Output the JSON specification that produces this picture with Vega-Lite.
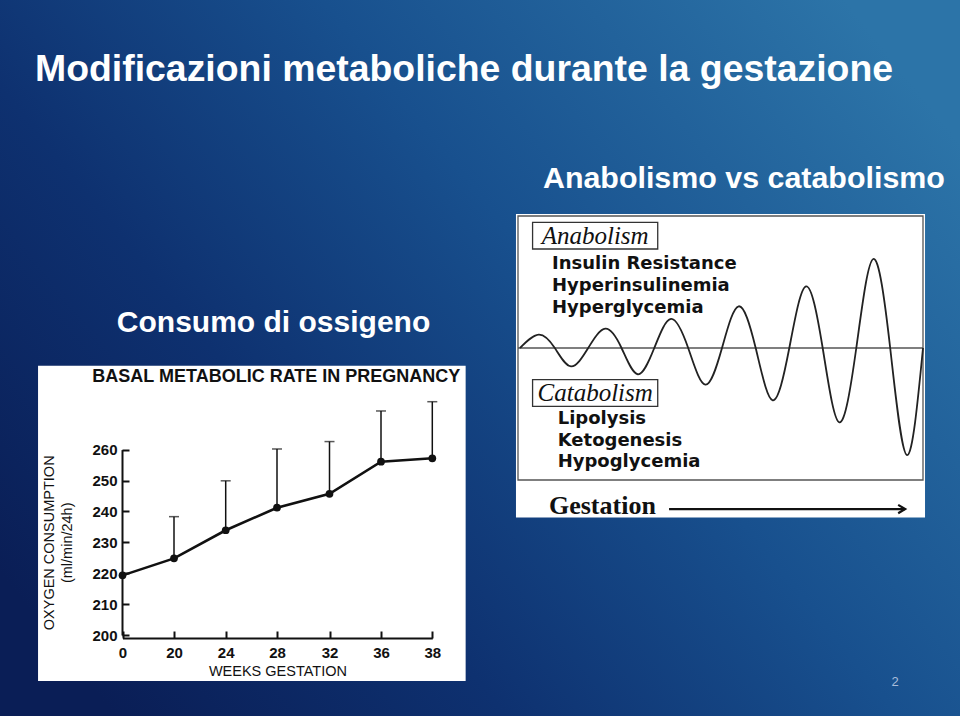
{
  "$schema": "https://vega.github.io/schema/vega-lite/v6.json",
  "width": 960,
  "height": 716,
  "autosize": {"type": "none"},
  "padding": 0,
  "background": "#0c2a66",
  "title": {
    "text": "Modificazioni metaboliche durante la gestazione",
    "anchor": "start",
    "frame": "group",
    "offset": -88,
    "dx": 35,
    "font": "Liberation Sans",
    "fontSize": 37.4,
    "fontWeight": "bold",
    "color": "#ffffff"
  },
  "datasets": {
    "bmr": [
      {"week": 0, "o2": 219.3},
      {"week": 20, "o2": 224.8, "upper": 238.3},
      {"week": 24, "o2": 233.9, "upper": 249.9},
      {"week": 28, "o2": 241.2, "upper": 260.2},
      {"week": 32, "o2": 245.7, "upper": 262.6},
      {"week": 36, "o2": 256.1, "upper": 272.5},
      {"week": 38, "o2": 257.2, "upper": 275.5}
    ],
    "bmrPanel": [{"x1": -32.8, "x2": 39.3, "y1": 185.1, "y2": 287.1}],
    "bmrTitle": [{"label": "BASAL METABOLIC RATE IN PREGNANCY", "week": 27.95, "o2": 283.4}],
    "bmrHeading": [{"label": "Consumo di ossigeno", "week": 27.73, "o2": 298.1}],
    "wavePanel": [{"x1": -0.5, "x2": 100.5, "y1": 1.015, "y2": -1.284}],
    "waveFrame": [{"x1": 0, "x2": 100, "y1": 1, "y2": -1}],
    "baseline": [{"t": 0, "v": 0}, {"t": 100, "v": 0}],
    "wave": [
      {"t": 0.5, "v": 0}, {"t": 5.11, "v": 0.101}, {"t": 9.09, "v": 0},
      {"t": 13.09, "v": -0.139}, {"t": 17.33, "v": 0}, {"t": 21.56, "v": 0.146},
      {"t": 25.56, "v": 0}, {"t": 29.56, "v": -0.199}, {"t": 33.65, "v": 0},
      {"t": 37.78, "v": 0.22}, {"t": 42.02, "v": 0}, {"t": 46.25, "v": -0.278},
      {"t": 50.37, "v": 0}, {"t": 54.49, "v": 0.316}, {"t": 58.69, "v": 0},
      {"t": 62.89, "v": -0.396}, {"t": 66.99, "v": 0}, {"t": 71.11, "v": 0.467},
      {"t": 75.23, "v": 0}, {"t": 79.33, "v": -0.563}, {"t": 83.53, "v": 0},
      {"t": 87.73, "v": 0.674}, {"t": 91.9, "v": 0}, {"t": 96.05, "v": -0.811},
      {"t": 100, "v": 0}
    ],
    "phaseBoxes": [
      {"phase": "Anabolism", "x1": 3.6, "x2": 34.5, "y1": 0.952, "y2": 0.75, "t": 19.05, "v": 0.851},
      {"phase": "Catabolism", "x1": 3.6, "x2": 34.5, "y1": -0.24, "y2": -0.442, "t": 19.05, "v": -0.341}
    ],
    "effects": [
      {"label": "Insulin Resistance", "t": 8.4, "v": 0.639},
      {"label": "Hyperinsulinemia", "t": 8.4, "v": 0.472},
      {"label": "Hyperglycemia", "t": 8.4, "v": 0.303},
      {"label": "Lipolysis", "t": 9.8, "v": -0.538},
      {"label": "Ketogenesis", "t": 9.8, "v": -0.702},
      {"label": "Hypoglycemia", "t": 9.8, "v": -0.866}
    ],
    "gestationLabel": [{"label": "Gestation", "t": 7.65, "v": -1.2}],
    "arrow": [{"t": 37.3, "v": -1.22}, {"t": 95.6, "v": -1.22}],
    "arrowHead": [{"t": 95.6, "v": -1.22}],
    "waveHeading": [{"label": "Anabolismo vs catabolismo", "t": 105.4, "v": 1.212}],
    "pageNumber": [{"label": "2", "t": 93.1, "v": -2.53}]
  },
  "layer": [
    {
      "layer": [
        {
          "data": {"name": "bmrPanel"},
          "mark": {"type": "rect", "fill": "#ffffff", "stroke": null},
          "encoding": {
            "x": {"field": "x1", "type": "quantitative", "scale": {"type": "linear", "domain": [0, 20, 24, 28, 32, 36, 38], "range": [122.5, 174, 225.7, 277, 329.5, 381, 432.3], "nice": false, "zero": false}, "axis": null},
            "x2": {"field": "x2"},
            "y": {"field": "y1", "type": "quantitative", "scale": {"type": "linear", "domain": [200, 260], "range": [635, 449.6], "nice": false, "zero": false}, "axis": null},
            "y2": {"field": "y2"}
          }
        },
        {
          "data": {"name": "bmr"},
          "transform": [{"filter": "isValid(datum.upper)"}],
          "mark": {"type": "rule", "color": "#111111", "strokeWidth": 1.5},
          "encoding": {
            "x": {"field": "week", "type": "quantitative", "axis": null},
            "y": {"field": "o2", "type": "quantitative", "axis": null},
            "y2": {"field": "upper"}
          }
        },
        {
          "data": {"name": "bmr"},
          "transform": [{"filter": "isValid(datum.upper)"}],
          "mark": {"type": "tick", "orient": "horizontal", "color": "#111111", "size": 10, "thickness": 1.5},
          "encoding": {
            "x": {"field": "week", "type": "quantitative", "axis": null},
            "y": {"field": "upper", "type": "quantitative", "axis": null}
          }
        },
        {
          "data": {"name": "bmr"},
          "mark": {"type": "line", "color": "#111111", "strokeWidth": 2.6},
          "encoding": {
            "x": {
              "field": "week", "type": "quantitative",
              "axis": {
                "values": [0, 20, 24, 28, 32, 36, 38], "format": "d",
                "title": "WEEKS GESTATION", "offset": -78,
                "tickSize": -7, "tickWidth": 2, "tickColor": "#111111",
                "domainColor": "#111111", "domainWidth": 2,
                "labelPadding": 14, "labelFont": "Liberation Sans", "labelFontSize": 15, "labelFontWeight": "bold", "labelColor": "#111111",
                "labelFlush": false, "labelOverlap": false,
                "titleFont": "Liberation Sans", "titleFontSize": 14.5, "titleFontWeight": "normal", "titleColor": "#111111", "titlePadding": 4,
                "grid": false, "zindex": 1
              }
            },
            "y": {
              "field": "o2", "type": "quantitative",
              "axis": {
                "values": [200, 210, 220, 230, 240, 250, 260],
                "title": ["OXYGEN CONSUMPTION", "(ml/min/24h)"], "offset": -122,
                "tickSize": -7, "tickWidth": 2, "tickColor": "#111111",
                "domainColor": "#111111", "domainWidth": 2,
                "labelPadding": 12, "labelFont": "Liberation Sans", "labelFontSize": 15, "labelFontWeight": "bold", "labelColor": "#111111",
                "labelFlush": false, "labelOverlap": false,
                "titleFont": "Liberation Sans", "titleFontSize": 14.5, "titleFontWeight": "normal", "titleColor": "#111111", "titlePadding": 17, "titleLineHeight": 18,
                "grid": false, "zindex": 1
              }
            }
          }
        },
        {
          "data": {"name": "bmr"},
          "mark": {"type": "point", "filled": true, "color": "#111111", "size": 60, "opacity": 1},
          "encoding": {
            "x": {"field": "week", "type": "quantitative", "axis": null},
            "y": {"field": "o2", "type": "quantitative", "axis": null}
          }
        },
        {
          "data": {"name": "bmrTitle"},
          "mark": {"type": "text", "font": "Liberation Sans", "fontSize": 18, "fontWeight": "bold", "color": "#111111", "align": "center", "baseline": "middle"},
          "encoding": {
            "x": {"field": "week", "type": "quantitative", "axis": null},
            "y": {"field": "o2", "type": "quantitative", "axis": null},
            "text": {"field": "label"}
          }
        },
        {
          "data": {"name": "bmrHeading"},
          "mark": {"type": "text", "font": "Liberation Sans", "fontSize": 30, "fontWeight": "bold", "color": "#ffffff", "align": "center", "baseline": "alphabetic"},
          "encoding": {
            "x": {"field": "week", "type": "quantitative", "axis": null},
            "y": {"field": "o2", "type": "quantitative", "axis": null},
            "text": {"field": "label"}
          }
        }
      ],
      "resolve": {"axis": {"x": "independent", "y": "independent"}}
    },
    {
      "layer": [
        {
          "data": {"name": "wavePanel"},
          "mark": {"type": "rect", "fill": "#ffffff", "stroke": null},
          "encoding": {
            "x": {"field": "x1", "type": "quantitative", "scale": {"domain": [0, 100], "range": [518, 923], "nice": false, "zero": false}, "axis": null},
            "x2": {"field": "x2"},
            "y": {"field": "y1", "type": "quantitative", "scale": {"domain": [-1, 1], "range": [480, 216], "nice": false, "zero": false}, "axis": null},
            "y2": {"field": "y2"}
          }
        },
        {
          "data": {"name": "waveFrame"},
          "mark": {"type": "rect", "fill": null, "fillOpacity": 0, "stroke": "#555555", "strokeWidth": 1.3},
          "encoding": {
            "x": {"field": "x1", "type": "quantitative", "axis": null},
            "x2": {"field": "x2"},
            "y": {"field": "y1", "type": "quantitative", "axis": null},
            "y2": {"field": "y2"}
          }
        },
        {
          "data": {"name": "baseline"},
          "mark": {"type": "line", "color": "#555555", "strokeWidth": 1.6},
          "encoding": {
            "x": {"field": "t", "type": "quantitative", "axis": null},
            "y": {"field": "v", "type": "quantitative", "axis": null}
          }
        },
        {
          "data": {"name": "wave"},
          "mark": {"type": "line", "color": "#222222", "strokeWidth": 1.8, "interpolate": "natural"},
          "encoding": {
            "x": {"field": "t", "type": "quantitative", "axis": null},
            "y": {"field": "v", "type": "quantitative", "axis": null}
          }
        },
        {
          "data": {"name": "phaseBoxes"},
          "mark": {"type": "rect", "fill": "#ffffff", "stroke": "#333333", "strokeWidth": 1.3},
          "encoding": {
            "x": {"field": "x1", "type": "quantitative", "axis": null},
            "x2": {"field": "x2"},
            "y": {"field": "y1", "type": "quantitative", "axis": null},
            "y2": {"field": "y2"}
          }
        },
        {
          "data": {"name": "phaseBoxes"},
          "mark": {"type": "text", "font": "Liberation Serif", "fontSize": 25, "fontStyle": "italic", "color": "#111111", "align": "center", "baseline": "middle"},
          "encoding": {
            "x": {"field": "t", "type": "quantitative", "axis": null},
            "y": {"field": "v", "type": "quantitative", "axis": null},
            "text": {"field": "phase"}
          }
        },
        {
          "data": {"name": "effects"},
          "mark": {"type": "text", "font": "DejaVu Sans", "fontSize": 18, "fontWeight": "bold", "color": "#111111", "align": "left", "baseline": "middle"},
          "encoding": {
            "x": {"field": "t", "type": "quantitative", "axis": null},
            "y": {"field": "v", "type": "quantitative", "axis": null},
            "text": {"field": "label"}
          }
        },
        {
          "data": {"name": "gestationLabel"},
          "mark": {"type": "text", "font": "Liberation Serif", "fontSize": 26, "fontWeight": "bold", "color": "#111111", "align": "left", "baseline": "middle"},
          "encoding": {
            "x": {"field": "t", "type": "quantitative", "axis": null},
            "y": {"field": "v", "type": "quantitative", "axis": null},
            "text": {"field": "label"}
          }
        },
        {
          "data": {"name": "arrow"},
          "mark": {"type": "line", "color": "#111111", "strokeWidth": 2.2},
          "encoding": {
            "x": {"field": "t", "type": "quantitative", "axis": null},
            "y": {"field": "v", "type": "quantitative", "axis": null}
          }
        },
        {
          "data": {"name": "arrowHead"},
          "mark": {"type": "point", "shape": "M-1,-0.6L0,0L-1,0.6", "filled": false, "color": "#111111", "strokeWidth": 2.2, "size": 196, "opacity": 1},
          "encoding": {
            "x": {"field": "t", "type": "quantitative", "axis": null},
            "y": {"field": "v", "type": "quantitative", "axis": null}
          }
        },
        {
          "data": {"name": "waveHeading"},
          "mark": {"type": "text", "font": "Liberation Sans", "fontSize": 30.4, "fontWeight": "bold", "color": "#ffffff", "align": "right", "baseline": "alphabetic"},
          "encoding": {
            "x": {"field": "t", "type": "quantitative", "axis": null},
            "y": {"field": "v", "type": "quantitative", "axis": null},
            "text": {"field": "label"}
          }
        },
        {
          "data": {"name": "pageNumber"},
          "mark": {"type": "text", "font": "Liberation Sans", "fontSize": 13, "color": "#a9bddb", "align": "center", "baseline": "middle"},
          "encoding": {
            "x": {"field": "t", "type": "quantitative", "axis": null},
            "y": {"field": "v", "type": "quantitative", "axis": null},
            "text": {"field": "label"}
          }
        }
      ]
    }
  ],
  "resolve": {"scale": {"x": "independent", "y": "independent"}},
  "config": {
    "view": {
      "stroke": null,
      "fill": {
        "gradient": "linear",
        "x1": 0, "y1": 0.8, "x2": 1, "y2": 0.2,
        "stops": [
          {"offset": 0, "color": "#0a1e56"},
          {"offset": 0.3, "color": "#0e3170"},
          {"offset": 0.6, "color": "#18508e"},
          {"offset": 1, "color": "#2c74a8"}
        ]
      }
    },
    "axis": {"grid": false}
  }
}
